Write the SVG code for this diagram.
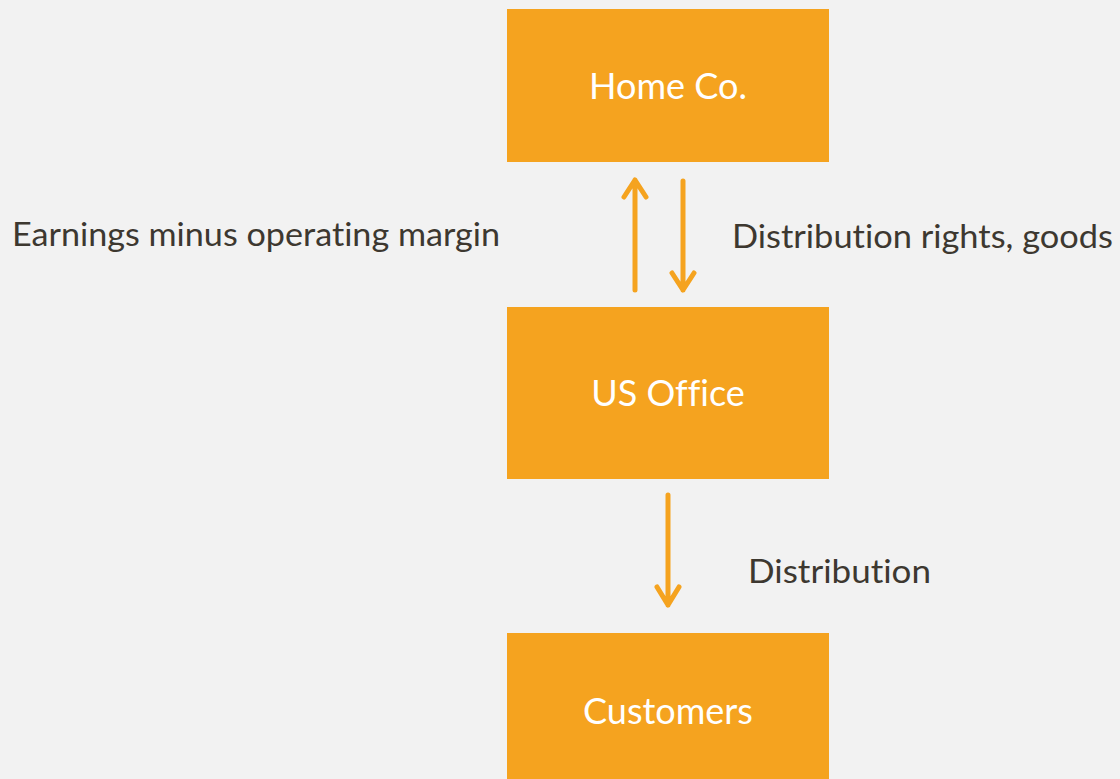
<svg xmlns="http://www.w3.org/2000/svg" width="1120" height="779" viewBox="0 0 1120 779">
  <defs>
    <style>
      .box { fill: #f5a31f; }
      .box-label { fill: #ffffff; font-family: Lato, "Open Sans", sans-serif; font-size: 36px; text-anchor: middle; font-variant-ligatures: none; }
      .edge-label { fill: #3d3830; font-family: Lato, "Open Sans", sans-serif; font-size: 32px; font-variant-ligatures: none; }
      .flow { stroke: #f5a31f; stroke-width: 5; fill: none; stroke-linecap: round; stroke-linejoin: round; }
    </style>
  </defs>
  <rect width="1120" height="779" fill="#f2f2f2"/>

  <g id="home-co">
    <rect class="box" x="507" y="9" width="322" height="153"/>
    <text class="box-label" x="668" y="99">Home Co.</text>
  </g>

  <g id="us-office">
    <rect class="box" x="507" y="307" width="322" height="172"/>
    <text class="box-label" x="668" y="406">US Office</text>
  </g>

  <g id="customers">
    <rect class="box" x="507" y="633" width="322" height="150"/>
    <text class="box-label" x="668" y="724">Customers</text>
  </g>

  <g id="connectors">
    <!-- earnings flowing up to Home Co. -->
    <path class="flow" d="M635 290 V180 M624 197 L635 180 L646 197"/>
    <!-- rights and goods flowing down to US Office -->
    <path class="flow" d="M683 181 V290 M672 273 L683 290 L694 273"/>
    <!-- distribution down to customers -->
    <path class="flow" d="M668 495 V605 M657 587 L668 605 L679 587"/>
    <text class="edge-label" x="12" y="246" textLength="488" lengthAdjust="spacingAndGlyphs">Earnings minus operating margin</text>
    <text class="edge-label" x="732" y="248" textLength="381" lengthAdjust="spacingAndGlyphs">Distribution rights, goods</text>
    <text class="edge-label" x="748" y="583" textLength="183" lengthAdjust="spacingAndGlyphs">Distribution</text>
  </g>
</svg>
